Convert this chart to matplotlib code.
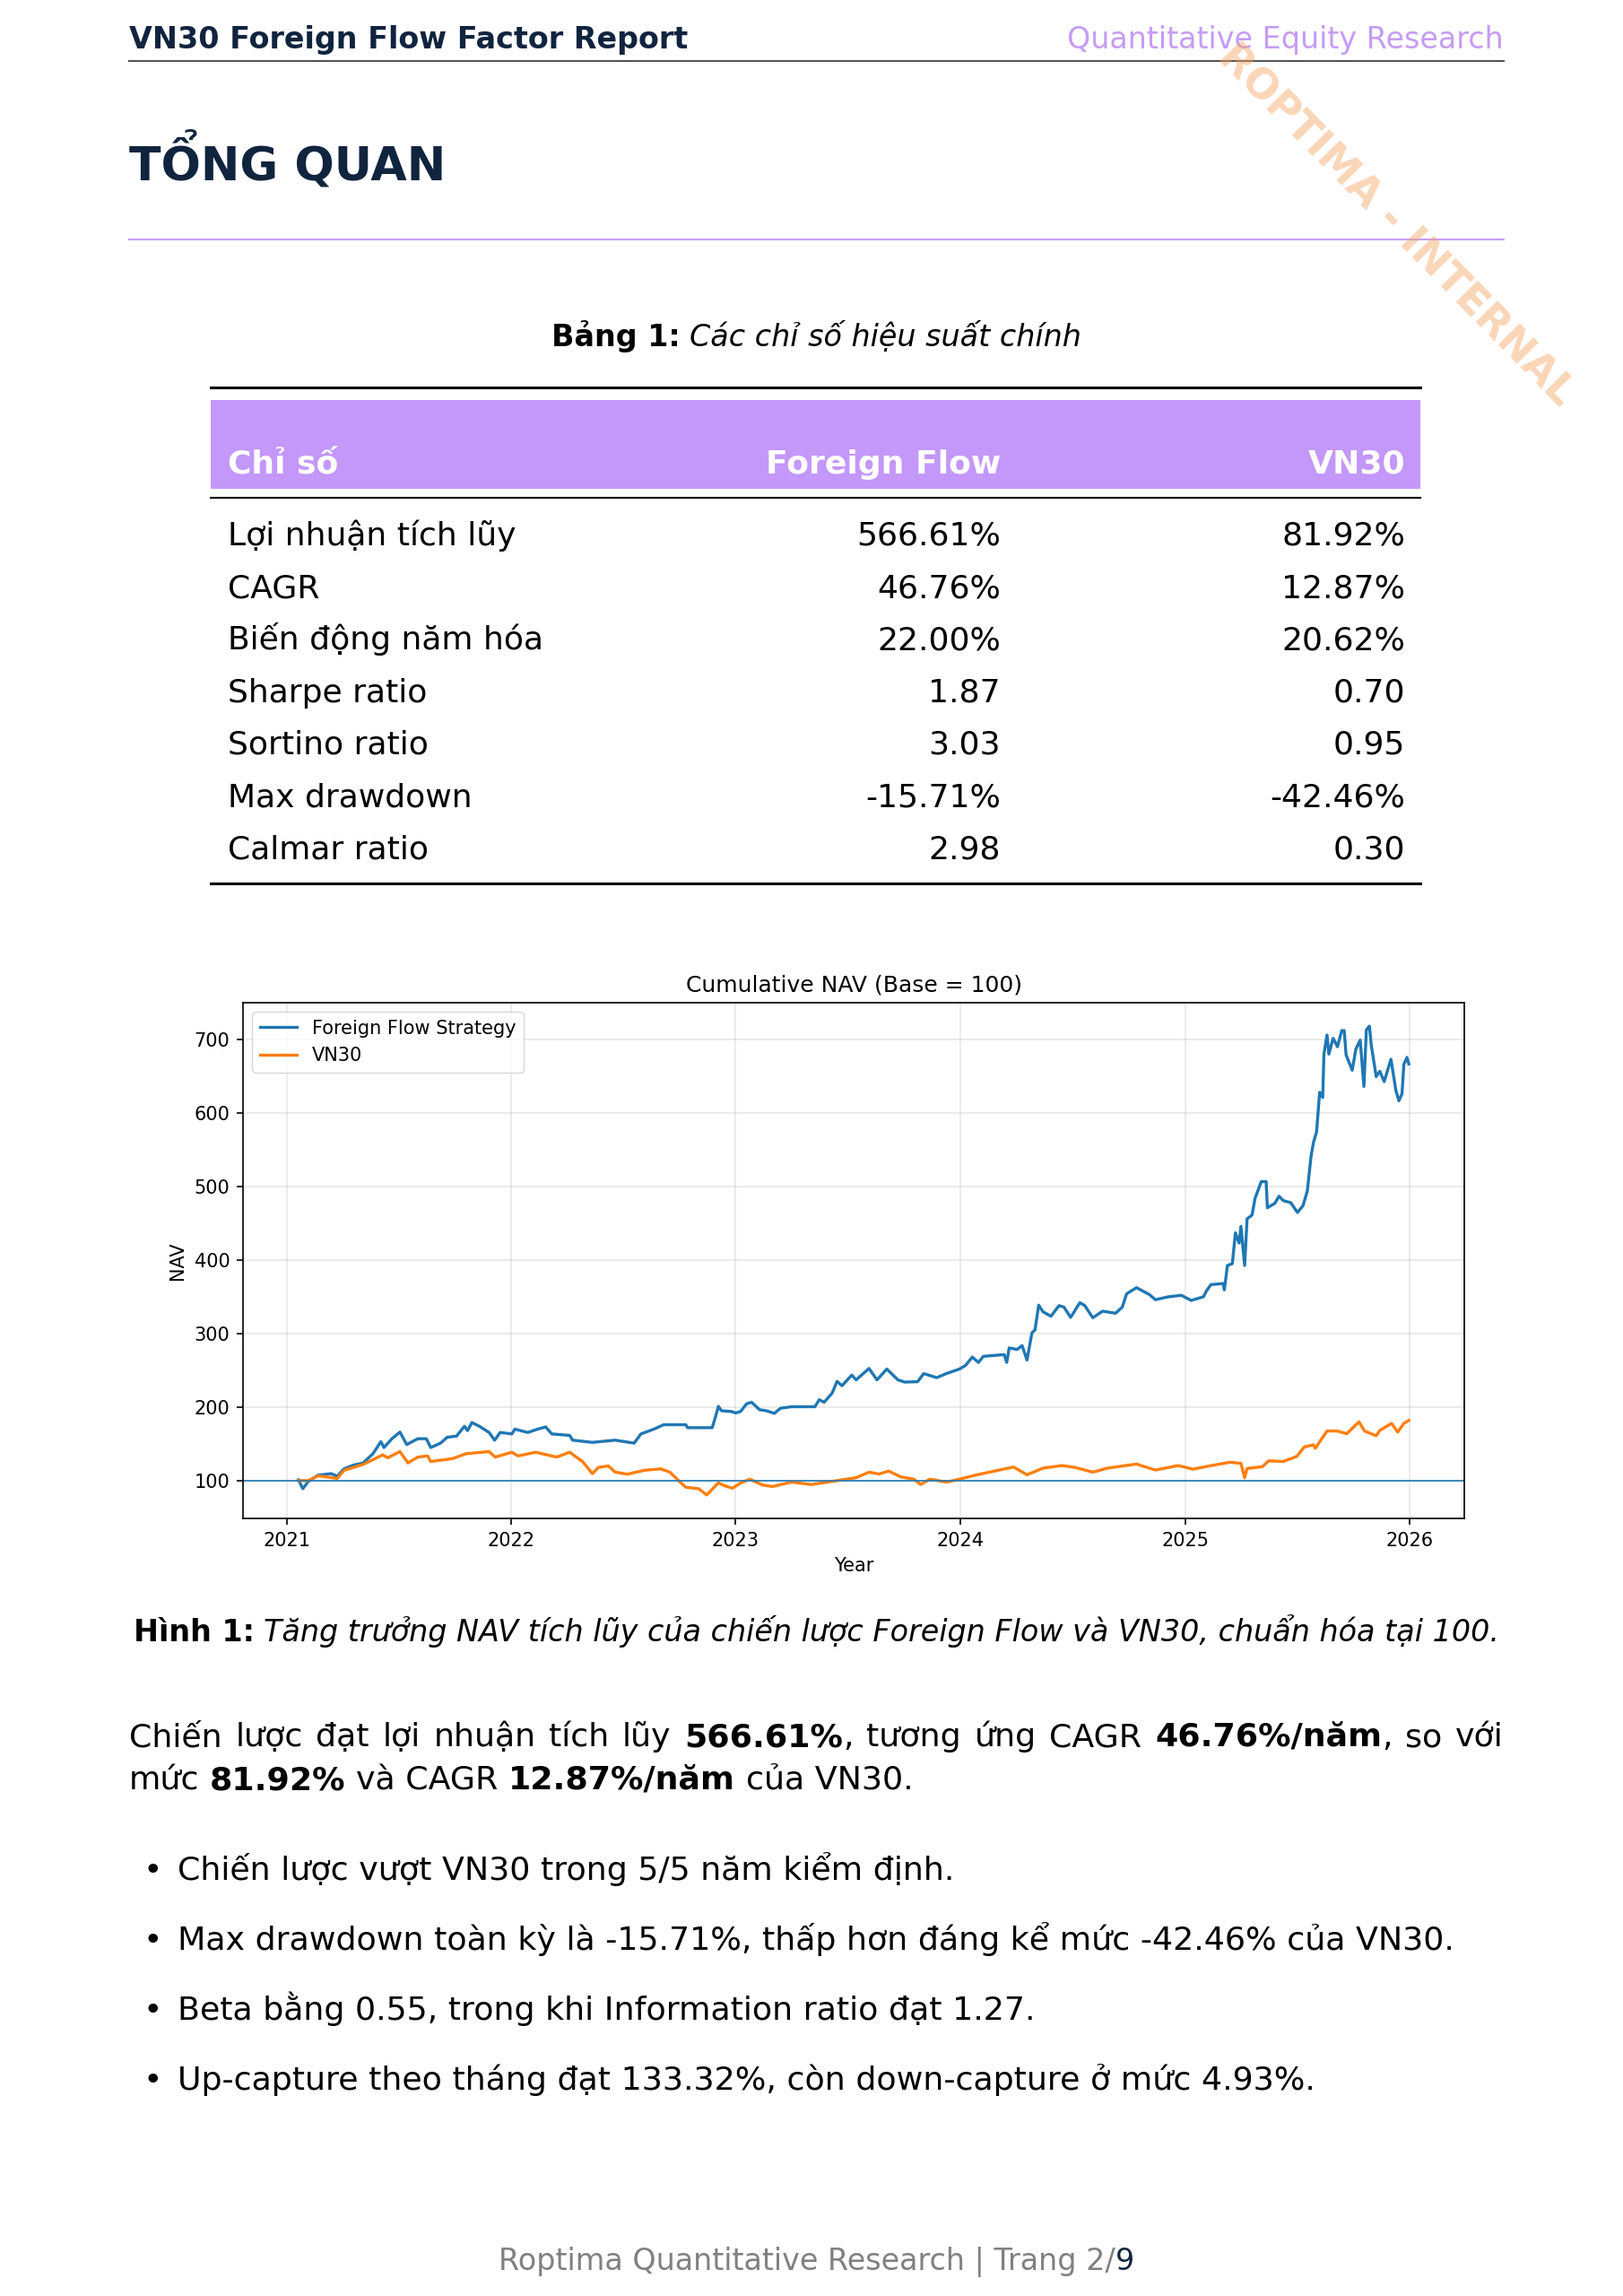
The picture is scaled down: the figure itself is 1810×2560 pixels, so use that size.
import matplotlib
matplotlib.use("Agg")
import matplotlib.pyplot as plt
import matplotlib.patches as mpatches
import pandas as pd

W, H = 1810, 2560
NAVY = "#10243e"
LAVENDER = "#c59cf5"
PURPLE_FILL = "#c497fb"

# ---- data ----
ff_dates = ["2021-01-20", "2021-01-27", "2021-02-05", "2021-02-21", "2021-03-14", "2021-03-24",
            "2021-04-04", "2021-04-19", "2021-05-05", "2021-05-21", "2021-06-03", "2021-06-08",
            "2021-06-21", "2021-07-04", "2021-07-15", "2021-08-02", "2021-08-16", "2021-08-23",
            "2021-09-08", "2021-09-19", "2021-10-04", "2021-10-17", "2021-10-22", "2021-10-29",
            "2021-11-10", "2021-11-26", "2021-12-05", "2021-12-14", "2022-01-02", "2022-01-07",
            "2022-01-28", "2022-02-13", "2022-02-26", "2022-03-08", "2022-04-06", "2022-04-11",
            "2022-05-13", "2022-06-19", "2022-07-20", "2022-07-31", "2022-08-21", "2022-09-06",
            "2022-10-12", "2022-10-15", "2022-11-24", "2022-11-29", "2022-12-04", "2022-12-09",
            "2022-12-25", "2023-01-01", "2023-01-09", "2023-01-19", "2023-01-27", "2023-02-09",
            "2023-02-20", "2023-03-05", "2023-03-15", "2023-04-02", "2023-05-10", "2023-05-17",
            "2023-05-25", "2023-06-07", "2023-06-15", "2023-06-23", "2023-07-09", "2023-07-16",
            "2023-08-06", "2023-08-19", "2023-09-04", "2023-09-22", "2023-10-03", "2023-10-24",
            "2023-11-03", "2023-11-24", "2023-12-10", "2023-12-31", "2024-01-10", "2024-01-21",
            "2024-01-31", "2024-02-08", "2024-03-13", "2024-03-17", "2024-03-21", "2024-04-03",
            "2024-04-11", "2024-04-19", "2024-04-27", "2024-05-02", "2024-05-08", "2024-05-15",
            "2024-05-28", "2024-06-10", "2024-06-18", "2024-06-29", "2024-07-14", "2024-07-22",
            "2024-08-04", "2024-08-20", "2024-09-10", "2024-09-21", "2024-09-28", "2024-10-14",
            "2024-11-04", "2024-11-14", "2024-12-05", "2024-12-26", "2025-01-11", "2025-01-31",
            "2025-02-05", "2025-02-12", "2025-03-04", "2025-03-06", "2025-03-11", "2025-03-19",
            "2025-03-24", "2025-03-30", "2025-04-02", "2025-04-08", "2025-04-12", "2025-04-20",
            "2025-04-25", "2025-05-05", "2025-05-13", "2025-05-15", "2025-05-27", "2025-06-03",
            "2025-06-10", "2025-06-22", "2025-07-03", "2025-07-12", "2025-07-19", "2025-07-25",
            "2025-07-29", "2025-08-03", "2025-08-08", "2025-08-13", "2025-08-15", "2025-08-20",
            "2025-08-23", "2025-08-30", "2025-09-06", "2025-09-13", "2025-09-17", "2025-09-20",
            "2025-09-30", "2025-10-06", "2025-10-13", "2025-10-19", "2025-10-23", "2025-10-28",
            "2025-10-31", "2025-11-08", "2025-11-14", "2025-11-21", "2025-12-02", "2025-12-10",
            "2025-12-15", "2025-12-20", "2025-12-23", "2025-12-28", "2025-12-31"]
ff_nav = [101, 89, 99, 107.5, 109.5, 106,
          116, 121, 124, 136.5, 153, 145,
          157, 166, 149, 157, 157, 145,
          151, 159, 160.5, 174, 168, 179,
          174, 165.5, 155, 165.5, 163.5, 170,
          165.5, 170, 173, 163.5, 161.5, 155,
          152, 155, 151, 163.5, 170, 176,
          176, 172, 172, 186, 201, 195,
          194, 192, 194, 204.5, 206.6, 196.4,
          195, 191.5, 198.4, 200.5, 200.5, 210,
          206.6, 219, 235, 229, 243.5, 237,
          252.5, 237, 251.7, 237, 234, 234.5,
          245.6, 240, 245.6, 251.7, 256.6, 268,
          260.7, 269, 271.4, 260.7, 280.4, 278.4,
          283.7, 264, 301, 305, 338.6, 329.6,
          323.5, 338, 336, 322, 342, 338,
          321.5, 330.4, 327.6, 336, 354, 362.4,
          353, 346, 350, 352, 345, 350,
          358, 366.5, 368, 359.4, 392.5, 395,
          437, 423, 445.8, 392.5, 456, 461,
          484, 506.6, 506.6, 471, 477, 486.8,
          480.7, 478, 464.6, 474, 494, 541,
          560, 574, 628, 621, 680, 706,
          680, 701.5, 690, 712, 712, 679,
          658, 687, 699, 636, 713, 718,
          692, 649.5, 656.6, 642.5, 673, 630.7,
          616.5, 626, 666, 675.5, 666.6]

vn_dates = ["2021-01-20", "2021-02-05", "2021-02-21", "2021-03-24", "2021-04-04", "2021-05-05",
            "2021-06-06", "2021-06-14", "2021-07-04", "2021-07-17", "2021-08-02", "2021-08-18",
            "2021-08-23", "2021-09-28", "2021-10-19", "2021-11-26", "2021-12-06", "2022-01-02",
            "2022-01-12", "2022-02-10", "2022-03-16", "2022-04-06", "2022-04-27", "2022-05-13",
            "2022-05-23", "2022-06-08", "2022-06-19", "2022-07-09", "2022-08-05", "2022-09-01",
            "2022-09-16", "2022-10-04", "2022-10-12", "2022-11-02", "2022-11-15", "2022-12-04",
            "2022-12-14", "2022-12-27", "2023-01-09", "2023-01-24", "2023-02-14", "2023-03-02",
            "2023-04-02", "2023-05-04", "2023-06-15", "2023-07-16", "2023-08-06", "2023-08-22",
            "2023-09-07", "2023-09-27", "2023-10-18", "2023-10-29", "2023-11-13", "2023-12-10",
            "2023-12-31", "2024-01-26", "2024-02-26", "2024-03-28", "2024-04-19", "2024-05-15",
            "2024-06-15", "2024-07-06", "2024-08-04", "2024-08-28", "2024-10-14", "2024-11-14",
            "2024-12-21", "2025-01-14", "2025-02-12", "2025-03-15", "2025-04-02", "2025-04-08",
            "2025-04-12", "2025-05-07", "2025-05-17", "2025-06-10", "2025-07-02", "2025-07-14",
            "2025-07-29", "2025-08-01", "2025-08-20", "2025-09-06", "2025-09-21", "2025-10-11",
            "2025-10-20", "2025-11-08", "2025-11-14", "2025-12-03", "2025-12-13", "2025-12-23",
            "2025-12-31"]
vn_nav = [100, 100, 106.6, 103, 114, 122,
          135, 131, 139.5, 124, 132, 133.6,
          126, 130, 136.5, 139.5, 132, 138.6,
          133.6, 138.6, 132, 138.6, 126, 109.5,
          118, 120, 111.6, 108.7, 114, 116,
          111.6, 97, 91, 89, 80.5, 97,
          93, 89.7, 96.7, 102, 94, 92,
          98, 94.7, 100, 104, 111.5, 109,
          113, 105, 102, 94.7, 102, 98,
          102, 107.4, 113, 118.5, 108, 117,
          120.5, 118, 111.5, 117, 122.5, 114.4,
          120.5, 115.6, 120.3, 125, 123.6, 103.8,
          116.5, 119, 127, 126, 133, 145.8,
          148.6, 144, 167.5, 167.5, 163.7, 180,
          167.5, 161, 168.4, 177.8, 166, 177.8,
          181.9]

metric_names = ["Lợi nhuận tích lũy", "CAGR", "Biến động năm hóa", "Sharpe ratio",
                "Sortino ratio", "Max drawdown", "Calmar ratio"]
ff_metrics = ["566.61%", "46.76%", "22.00%", "1.87", "3.03", "-15.71%", "2.98"]
vn_metrics = ["81.92%", "12.87%", "20.62%", "0.70", "0.95", "-42.46%", "0.30"]

bullets = ["Chiến lược vượt VN30 trong 5/5 năm kiểm định.",
           "Max drawdown toàn kỳ là -15.71%, thấp hơn đáng kể mức -42.46% của VN30.",
           "Beta bằng 0.55, trong khi Information ratio đạt 1.27.",
           "Up-capture theo tháng đạt 133.32%, còn down-capture ở mức 4.93%."]

plt.rcParams['font.family'] = ['DejaVu Sans']

fig = plt.figure(figsize=(W / 100, H / 100), dpi=100)
renderer = fig.canvas.get_renderer()


def fx(x):
    return x / W


def fy(y):
    return 1 - y / H


def hline(y, x0, x1, color, lw):
    fig.add_artist(plt.Line2D([fx(x0), fx(x1)], [fy(y), fy(y)], color=color, lw=lw,
                              transform=fig.transFigure))


def text_w(s, size, weight="normal", style="normal"):
    t = fig.text(0, 0, s, fontsize=size, fontweight=weight, fontstyle=style)
    w = t.get_window_extent(renderer).width
    t.remove()
    return w


def draw_runs(pieces, x0, y, size, width=None, center=None):
    # pieces: (text, weight, style, color, space_before)
    ws = [text_w(p[0], size, p[1], p[2]) for p in pieces]
    sp = text_w("x x", size) - text_w("xx", size)
    ngaps = sum(1 for p in pieces if p[4])
    natural = sum(ws) + ngaps * sp
    if width is not None and ngaps:
        sp += (width - natural) / ngaps
    if center is not None:
        x0 = center - natural / 2
    x = x0
    for p, w in zip(pieces, ws):
        if p[4]:
            x += sp
        fig.text(fx(x), fy(y), p[0], fontsize=size, fontweight=p[1], fontstyle=p[2],
                 color=p[3], ha="left", va="baseline")
        x += w


LEFT, RIGHT = 144, 1677
MID = (LEFT + RIGHT) / 2

# page header
fig.text(fx(LEFT), fy(54), "VN30 Foreign Flow Factor Report", fontsize=24,
         fontweight="bold", color=NAVY, va="baseline")
fig.text(fx(RIGHT), fy(54), "Quantitative Equity Research", fontsize=24,
         color=LAVENDER, ha="right", va="baseline")
hline(68, LEFT, RIGHT, "#555555", 1.5)

fig.text(fx(LEFT), fy(200), "TỔNG QUAN", fontsize=37.5, fontweight="bold",
         color=NAVY, va="baseline")
hline(267, LEFT, RIGHT, LAVENDER, 1.5)

# table
draw_runs([("Bảng 1:", "bold", "normal", "black", False),
           ("Các chỉ số hiệu suất chính", "normal", "italic", "black", True)],
          0, 386, 24, center=MID)

TL, TR = 235, 1584
hline(432, TL, TR, "black", 2.2)
fig.add_artist(mpatches.Rectangle((fx(TL), fy(545)), fx(TR) - fx(TL), fy(446) - fy(545),
                                  transform=fig.transFigure, facecolor=PURPLE_FILL,
                                  edgecolor="none"))
hline(555, TL, TR, "black", 1.5)

COL0, COL1, COL2 = 254, 1116, 1567
TSIZE = 26
fig.text(fx(COL0), fy(528), "Chỉ số", fontsize=TSIZE, fontweight="bold", color="white",
         va="baseline")
fig.text(fx(COL1), fy(528), "Foreign Flow", fontsize=TSIZE, fontweight="bold",
         color="white", ha="right", va="baseline")
fig.text(fx(COL2), fy(528), "VN30", fontsize=TSIZE, fontweight="bold", color="white",
         ha="right", va="baseline")
for i, (name, a, b) in enumerate(zip(metric_names, ff_metrics, vn_metrics)):
    yb = 608 + i * 58.2
    fig.text(fx(COL0), fy(yb), name, fontsize=TSIZE, va="baseline")
    fig.text(fx(COL1), fy(yb), a, fontsize=TSIZE, ha="right", va="baseline")
    fig.text(fx(COL2), fy(yb), b, fontsize=TSIZE, ha="right", va="baseline")
hline(985, TL, TR, "black", 2.2)

# chart
s = 1.5
ax = fig.add_axes([fx(271), fy(1693), fx(1633) - fx(271), fy(1118) - fy(1693)])
ff = pd.Series(ff_nav, index=pd.to_datetime(ff_dates))
vn = pd.Series(vn_nav, index=pd.to_datetime(vn_dates))
ax.plot(ff.index, ff.values, color="#1f77b4", lw=1.6 * s, label="Foreign Flow Strategy")
ax.plot(vn.index, vn.values, color="#ff7f0e", lw=1.6 * s, label="VN30")
ax.axhline(100, color="#1f77b4", lw=0.8 * s)
ax.set_title("Cumulative NAV (Base = 100)", fontsize=12 * s, pad=6 * s)
ax.set_xlabel("Year", fontsize=10 * s, labelpad=4 * s)
ax.set_ylabel("NAV", fontsize=10 * s, labelpad=4 * s)
ax.grid(True, alpha=0.3, lw=0.8 * s)
ax.tick_params(labelsize=10 * s, length=3.5 * s, width=0.8 * s, pad=3.5 * s)
for sp_ in ax.spines.values():
    sp_.set_linewidth(0.8 * s)
ax.legend(loc="upper left", fontsize=10 * s)

draw_runs([("Hình 1:", "bold", "normal", "black", False),
           ("Tăng trưởng NAV tích lũy của chiến lược Foreign Flow và VN30, chuẩn hóa tại 100.",
            "normal", "italic", "black", True)],
          0, 1830, 24, center=MID)

# paragraph
BSIZE = 26.2
line1 = [("Chiến", "normal", "normal", "black", False)]
for w_ in "lược đạt lợi nhuận tích lũy".split():
    line1.append((w_, "normal", "normal", "black", True))
line1 += [("566.61%", "bold", "normal", "black", True), (",", "normal", "normal", "black", False),
          ("tương", "normal", "normal", "black", True), ("ứng", "normal", "normal", "black", True),
          ("CAGR", "normal", "normal", "black", True),
          ("46.76%/năm", "bold", "normal", "black", True), (",", "normal", "normal", "black", False),
          ("so", "normal", "normal", "black", True), ("với", "normal", "normal", "black", True)]
draw_runs(line1, LEFT, 1947, BSIZE, width=RIGHT - LEFT)
line2 = [("mức", "normal", "normal", "black", False),
         ("81.92%", "bold", "normal", "black", True),
         ("và CAGR", "normal", "normal", "black", True),
         ("12.87%/năm", "bold", "normal", "black", True),
         ("của VN30.", "normal", "normal", "black", True)]
draw_runs(line2, LEFT, 1995, BSIZE)

for i, b in enumerate(bullets):
    yb = 2096 + i * 78
    fig.text(fx(159), fy(yb), "•", fontsize=BSIZE, va="baseline")
    fig.text(fx(198), fy(yb), b, fontsize=BSIZE, va="baseline")

# footer
draw_runs([("Roptima Quantitative Research | Trang 2/", "normal", "normal", "#808080", False),
           ("9", "normal", "normal", NAVY, False)],
          0, 2531, 24, center=MID)

# watermark
fig.text(fx(1557), fy(252), "ROPTIMA - INTERNAL", fontsize=33, fontweight="bold",
         color="#f4a460", alpha=0.45, rotation=-45.5, ha="center", va="center",
         rotation_mode="anchor")

fig.savefig("out.png", dpi=100)
